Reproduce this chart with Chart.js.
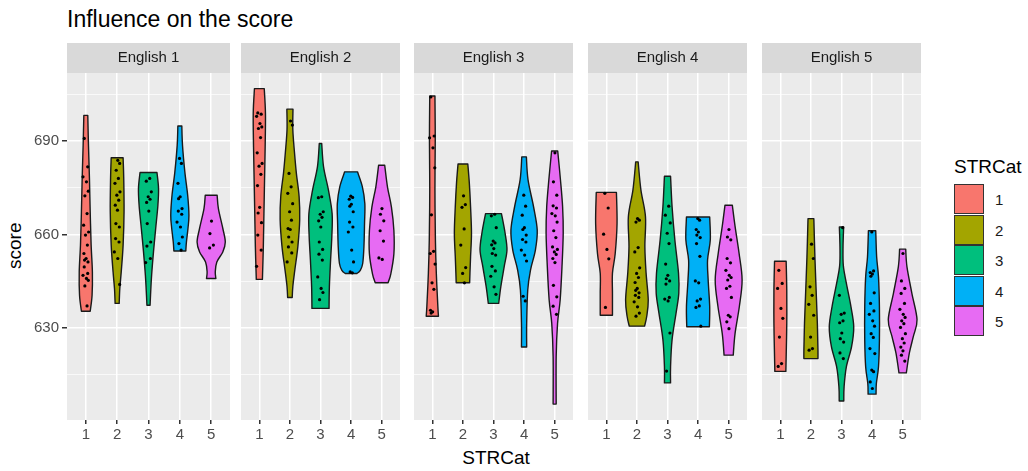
<!DOCTYPE html>
<html>
<head>
<meta charset="utf-8">
<script src="https://cdn.jsdelivr.net/npm/chart.js@4.4.1/dist/chart.umd.min.js"></script>
<style>
body { margin: 0; background: #fff; font-family: "Liberation Sans", Arial, sans-serif; }
#wrap { position: relative; width: 1028px; height: 471px; overflow: hidden; }
#wrap canvas { position: absolute; }
.txt { position: absolute; white-space: nowrap; line-height: 1; }
.key { position: absolute; left: 954px; width: 28px; height: 28px; border: 1px solid #333; }
.keylab { position: absolute; left: 995px; font-size: 15px; color: #1a1a1a; line-height: 1; }
</style>
</head>
<body>
<div id="wrap">
  <div class="txt" style="left:67px;top:8px;font-size:23px;color:#000;">Influence on the score</div>
  <div class="txt" style="left:0;top:0;font-size:19px;color:#000;transform:translate(5px,269px) rotate(-90deg);transform-origin:0 0;">score</div>
  <div class="txt" style="left:0;width:1028px;text-align:center;top:448px;font-size:19px;color:#000;"><span style="position:relative;left:-18px">STRCat</span></div>
  <div class="txt" style="left:954px;top:157px;font-size:19px;color:#000;">STRCat</div>
  <div id="legend"></div>
</div>
<script>
// facets and groups
const panels = ['English 1', 'English 2', 'English 3', 'English 4', 'English 5'];
const categories = [1, 2, 3, 4, 5];
const colors = ['#F8766D', '#A3A500', '#00BF7D', '#00B0F6', '#E76BF3'];
const yTicks = [630, 660, 690];
const yMinor = [615, 645, 675, 705];

// violin outlines: [score, half width] from bottom to top, one list per STRCat
const english1Violins = [
    [[635.4,0.14],[640.5,0.2],[648,0.21],[656.6,0.17],[667.3,0.14],[678,0.116],[688.6,0.085],[698.2,0.063]],
    [[637.9,0.065],[642.7,0.085],[648,0.13],[656.6,0.19],[667.3,0.22],[678,0.21],[684.6,0.19]],
    [[637.3,0.05],[640.6,0.065],[647,0.1],[654.5,0.16],[662,0.23],[669.4,0.3],[674.8,0.32],[679.9,0.27]],
    [[654.7,0.19],[657.6,0.21],[662,0.26],[666.2,0.29],[672.6,0.25],[680,0.16],[688.6,0.085],[694.8,0.063]],
    [[645.9,0.15],[648,0.13],[651.2,0.18],[654.4,0.37],[657.6,0.45],[662,0.37],[668.3,0.23],[672.6,0.19]]
];
const english2Violins = [
    [[645.6,0.1],[656,0.13],[666.7,0.15],[677.4,0.17],[688.1,0.19],[698.8,0.2],[706.8,0.16]],
    [[639.8,0.075],[643.3,0.095],[648.6,0.16],[656.2,0.26],[664.8,0.32],[672.2,0.3],[679.7,0.21],[686.2,0.15],[693.6,0.095],[700.2,0.1]],
    [[636.3,0.28],[643.2,0.29],[651.8,0.33],[659.2,0.37],[666.7,0.38],[674.2,0.26],[681.7,0.1],[689.2,0.04]],
    [[647.5,0.19],[648.5,0.3],[650.7,0.38],[656,0.42],[663.5,0.44],[669.9,0.45],[675.3,0.37],[680.1,0.21]],
    [[644.5,0.21],[647.4,0.3],[653.8,0.4],[661.3,0.4],[668.8,0.32],[675.3,0.19],[682.2,0.1]]
];
const english3Violins = [
    [[633.8,0.2],[636.9,0.18],[647.6,0.13],[658.3,0.1],[674.3,0.085],[690.3,0.095],[704.4,0.085]],
    [[644.5,0.22],[647.6,0.23],[652.9,0.25],[660.4,0.28],[668.9,0.25],[676.4,0.21],[682.6,0.16]],
    [[637.9,0.17],[643.3,0.24],[649.7,0.35],[655,0.44],[660.4,0.38],[666.7,0.26]],
    [[623.9,0.085],[631.5,0.085],[642.2,0.12],[648.6,0.21],[655,0.37],[661.4,0.43],[668.9,0.31],[677.5,0.13],[684.9,0.075]],
    [[605.6,0.05],[620.8,0.05],[631.5,0.095],[639,0.18],[649.7,0.24],[660.4,0.28],[668.9,0.26],[677.5,0.19],[686.8,0.1]]
];
const english4Violins = [
    [[634.1,0.2],[641.1,0.2],[647.6,0.2],[653.9,0.29],[663.5,0.35],[673.5,0.33]],
    [[630.6,0.25],[633.7,0.32],[639,0.37],[647.6,0.3],[656.1,0.26],[665.7,0.28],[674.3,0.13],[683.3,0.04]],
    [[612.4,0.1],[617.7,0.1],[626.3,0.15],[634.8,0.28],[641.2,0.37],[647.6,0.36],[658.3,0.24],[668.9,0.15],[678.7,0.1]],
    [[630.4,0.37],[636.9,0.38],[645.4,0.33],[651.8,0.31],[658.3,0.4],[665.6,0.38]],
    [[621.3,0.15],[628.3,0.21],[636.9,0.35],[645.4,0.44],[654,0.34],[662.6,0.21],[669.4,0.12]]
];
const english5Violins = [
    [[616.1,0.18],[620.8,0.19],[631.5,0.21],[642.1,0.21],[651.4,0.19]],
    [[620.2,0.23],[622.9,0.23],[631.5,0.21],[642.1,0.17],[652.8,0.13],[665.1,0.095]],
    [[606.6,0.075],[611.2,0.085],[617.6,0.16],[624,0.33],[630.4,0.4],[636.8,0.31],[644.3,0.16],[650,0.06],[656,0.05],[662.4,0.07]],
    [[608.8,0.13],[612.2,0.14],[617.6,0.21],[626.1,0.24],[636.8,0.24],[646.4,0.21],[652.8,0.15],[661.2,0.12]],
    [[615.6,0.12],[622,0.22],[627.3,0.35],[632.7,0.47],[641.2,0.3],[649.7,0.14],[655.3,0.1]]
];

// observed scores, one list per STRCat
const english1Points = [
    [690.8,681.7,678.5,676.9,673.9,672.4,666.7,663,660.8,659.8,656.6,653.9,652.3,651.8,651.2,649.6,647.5,646.9,645.9,645.3,643.5,637.1],
    [683.8,682.8,680.6,678,676.4,673.7,672.6,671,669.4,667.8,663.5,662.4,658.7,657.6,654.4,652.3,644],
    [678,677.1,673.7,672.1,671.3,670.3,667.5,663.5,657.6,656.3,652.3,651],
    [684.4,682.8,676.4,672.1,671.5,668.3,667.5,666.5,664,662.4,659.2,657.1,655],
    [664.3,660.3,656.6,655.7]
];
const english2Points = [
    [699,698.6,697.9,695.6,694.5,694,691.1,686.2,682.8,681.9,679.3,675.7,668.7,666.9,663.8,659.8,655,649.8],
    [696.4,695.1,679.6,675.3,673.2,669.9,667.3,664.6,661.9,661.6,659.2,657.6,656,654.1,651.2],
    [672.1,671.8,667.3,666.5,665.5,664.4,662.4,657.6,655.2,653.7,651.8,646.4,642.7,641.4,639.1],
    [672.3,671.9,671.3,669.7,669.1,667.3,664,662.4,660.8,655,651.2,648,647.7],
    [668.3,666.5,664.4,661.2,657.9,652.5,652]
];
const english3Points = [
    [704.1,691.6,691,687.8,681.4,666.3,654.6,653.9,650.5,644.5,642.4,635.7,635.2,634.8],
    [672.4,669.6,668.7,661.8,656.6,649.4,647.5,644.5],
    [666.5,666,662.2,657.9,657.3,656.7,655.5,653.9,653.4,649.8,648.3,646.6,643.2,640.8],
    [672.6,669.1,666.2,662.2,661.6,659.8,658.4,657.6,655,653.4,651.5,640.2,638.7],
    [686.2,676.9,672.6,669.2,668.5,666.7,666,664,661.2,659,656,655.2,654.4,653.6,652.3,651,643.7,640,637,634.4]
];
const english4Points = [
    [673.2,668.5,660.1,655.2,652.2,636.6],
    [665.1,664.6,664,655.8,654.4,649.3,647.5,646.2,644.6,642.7,642.1,641.3,640.5,639.8,638.4,636.8,634.8,633.8],
    [669.1,666.2,663.7,660.4,657.1,650.5,646.9,645.8,645.1,644.1,639.8,639.3,638.7,628.4,616.2],
    [665.1,664.6,661.6,660.8,659.8,659,657.1,653,645.1,644.5,639.3,638.7,637.1,636.6,630.6],
    [661.6,659.2,658.3,652.3,650.9,648.5,646.9,646.2,645.4,643.4,642.7,639.8,634.1,633.6,632,629.8]
];
const english5Points = [
    [648.5,644.3,642.7,636.3,633.1,627.1,618.6,617.7],
    [656.9,652.3,643.2,640.5,637.6,634.1,627.1,623.4,622.9],
    [662.2,640.5,634.8,634.4,632.3,631.7,628.4,626.6,625.5,622,620.2],
    [660.8,648.3,647.8,647.3,646.6,641.3,637.9,635.5,634.4,632.3,630.6,628.2,627,623.4,621.8,616.5,616,612.7,610.6],
    [653.9,645.1,642.7,641.1,637.9,636,634.4,633.4,632.3,631.4,630.2,628.2,626.6,625.2,623.9,622.7,621.3,619.4]
];

// horizontal jitter pattern (in category units), cycled over the points
const jitter = [-0.05, 0.06, -0.09, 0.02, 0.08, -0.03, 0.04, -0.07, 0.09, -0.01, 0.05, -0.06, 0.01, -0.04, 0.07];

const allViolins = [english1Violins, english2Violins, english3Violins, english4Violins, english5Violins];
const allPoints = [english1Points, english2Points, english3Points, english4Points, english5Points];

const FONT = "'Liberation Sans', Arial, sans-serif";
Chart.defaults.font.family = FONT;

// smooth path through pixel points (catmull-rom)
function smoothThrough(ctx, pts) {
    for (let i = 0; i < pts.length - 1; i++) {
        const p0 = pts[Math.max(i - 1, 0)], p1 = pts[i], p2 = pts[i + 1], p3 = pts[Math.min(i + 2, pts.length - 1)];
        ctx.bezierCurveTo(
            p1[0] + (p2[0] - p0[0]) / 6, p1[1] + (p2[1] - p0[1]) / 6,
            p2[0] - (p3[0] - p1[0]) / 6, p2[1] - (p3[1] - p1[1]) / 6,
            p2[0], p2[1]);
    }
}

const violinPlugin = {
    id: 'violins',
    beforeDatasetsDraw(chart, args, opts) {
        const ctx = chart.ctx, xs = chart.scales.x, ys = chart.scales.y;
        opts.violins.forEach((prof, j) => {
            const c = categories[j];
            const right = prof.map(([v, w]) => [xs.getPixelForValue(c + w), ys.getPixelForValue(v)]);
            const left = prof.map(([v, w]) => [xs.getPixelForValue(c - w), ys.getPixelForValue(v)]).reverse();
            ctx.save();
            ctx.beginPath();
            ctx.moveTo(left[left.length - 1][0], left[left.length - 1][1]);
            ctx.lineTo(right[0][0], right[0][1]);
            smoothThrough(ctx, right);
            ctx.lineTo(left[0][0], left[0][1]);
            smoothThrough(ctx, left);
            ctx.closePath();
            ctx.fillStyle = colors[j];
            ctx.fill();
            ctx.lineWidth = 1.4;
            ctx.strokeStyle = '#1a1a1a';
            ctx.lineJoin = 'round';
            ctx.stroke();
            ctx.restore();
        });
    }
};

const panelPlugin = {
    id: 'panel',
    beforeDraw(chart, args, opts) {
        const ctx = chart.ctx, a = chart.chartArea;
        ctx.save();
        ctx.fillStyle = '#EBEBEB';
        ctx.fillRect(a.left, a.top, a.right - a.left, a.bottom - a.top);
        ctx.fillStyle = '#D9D9D9';
        ctx.fillRect(a.left, a.top - 30, a.right - a.left, 30);
        ctx.fillStyle = '#1a1a1a';
        ctx.font = '15px ' + FONT;
        ctx.textAlign = 'center';
        ctx.textBaseline = 'middle';
        ctx.fillText(opts.label, (a.left + a.right) / 2, a.top - 15);
        ctx.restore();
    }
};

const wrap = document.getElementById('wrap');

panels.forEach((name, i) => {
    const first = i === 0;
    const axisW = first ? 47 : 0;
    const panelLeft = 67 + i * 173.7;
    const canvas = document.createElement('canvas');
    canvas.width = 163 + axisW + 10;
    canvas.height = 404;
    canvas.style.left = (panelLeft - axisW) + 'px';
    canvas.style.top = '43px';
    wrap.appendChild(canvas);

    const pts = [];
    allPoints[i].forEach((list, j) => {
        list.forEach((v, k) => pts.push({ x: categories[j] + jitter[(k + j * 3) % jitter.length], y: v }));
    });

    const chart = new Chart(canvas, {
        type: 'scatter',
        data: {
            datasets: [{
                data: pts,
                backgroundColor: '#000',
                borderColor: '#000',
                borderWidth: 0,
                pointRadius: 1.6,
            }]
        },
        options: {
            responsive: false,
            animation: false,
            events: [],
            layout: { padding: { top: 30, left: 0, right: 10, bottom: 0 } },
            plugins: {
                legend: { display: false },
                tooltip: { enabled: false },
                panel: { label: name },
                violins: { violins: allViolins[i] },
            },
            scales: {
                x: {
                    type: 'linear',
                    min: 0.4,
                    max: 5.6,
                    afterBuildTicks: s => { s.ticks = categories.map(v => ({ value: v })); },
                    afterFit: s => { s.height = 27; },
                    border: { display: false },
                    grid: { color: '#fff', lineWidth: 1.5, tickColor: '#333', tickLength: 4, drawTicks: true },
                    ticks: { color: '#4d4d4d', font: { size: 15 }, padding: 2, maxRotation: 0, autoSkip: false },
                },
                y: {
                    min: 600.5,
                    max: 711.8,
                    afterBuildTicks: s => { s.ticks = yTicks.concat(yMinor).sort((a, b) => a - b).map(v => ({ value: v })); },
                    afterFit: s => { s.width = axisW; },
                    border: { display: false },
                    grid: {
                        color: '#fff',
                        lineWidth: c => yTicks.includes(c.tick.value) ? 1.5 : 0.7,
                        tickColor: c => yTicks.includes(c.tick.value) ? '#333' : 'rgba(0,0,0,0)',
                        tickLength: 5,
                        drawTicks: first,
                    },
                    ticks: {
                        display: first,
                        color: '#4d4d4d',
                        font: { size: 15 },
                        padding: 3,
                        autoSkip: false,
                        callback: v => yTicks.includes(v) ? String(v) : '',
                    },
                },
            },
        },
        plugins: [panelPlugin, violinPlugin],
    });

    // line the plot area up with its panel slot
    canvas.style.left = (panelLeft - chart.chartArea.left) + 'px';
    canvas.style.top = (73 - chart.chartArea.top) + 'px';
});

// legend keys
const legend = document.getElementById('legend');
categories.forEach((c, j) => {
    const key = document.createElement('div');
    key.className = 'key';
    key.style.top = (184 + j * 30.5) + 'px';
    key.style.background = colors[j];
    legend.appendChild(key);
    const lab = document.createElement('div');
    lab.className = 'keylab';
    lab.style.top = (184 + j * 30.5 + 8) + 'px';
    lab.textContent = String(c);
    legend.appendChild(lab);
});
</script>
</body>
</html>
